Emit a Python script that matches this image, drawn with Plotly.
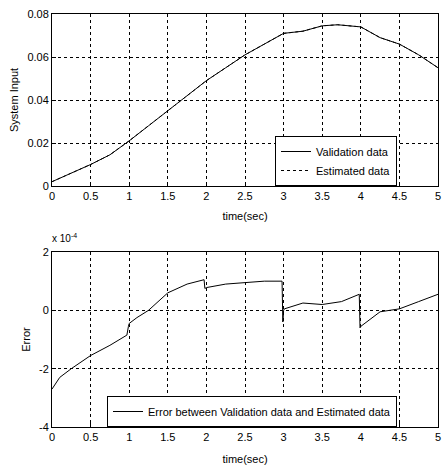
import plotly.graph_objects as go

# Data
t_in = [0, 0.25, 0.5, 0.75, 1.0, 1.25, 1.5, 1.75, 2.0, 2.25, 2.5, 2.75, 3.0, 3.25, 3.5, 3.7, 4.0, 4.25, 4.5, 4.75, 5.0]
validation = [0.002, 0.006, 0.010, 0.0145, 0.021, 0.028, 0.035, 0.042, 0.049, 0.055, 0.061, 0.066, 0.071, 0.072, 0.0745, 0.075, 0.074, 0.069, 0.066, 0.061, 0.055]
estimated = list(validation)

t_err = [0, 0.1, 0.25, 0.5, 0.75, 0.97, 0.99, 1.0, 1.1, 1.25, 1.5, 1.75, 1.97, 1.98, 2.0, 2.25, 2.5, 2.75, 2.98, 2.99, 3.0, 3.01, 3.25, 3.5, 3.75, 3.98, 3.99, 4.0, 4.25, 4.5, 4.75, 5.0]
err = [-2.7, -2.3, -2.0, -1.55, -1.2, -0.85, -0.55, -0.45, -0.25, 0.0, 0.6, 0.9, 1.05, 0.75, 0.78, 0.9, 0.95, 1.0, 1.0, -0.4, 0.0, 0.05, 0.25, 0.2, 0.3, 0.55, -0.6, -0.55, -0.05, 0.05, 0.3, 0.55]

xticks = [0, 0.5, 1, 1.5, 2, 2.5, 3, 3.5, 4, 4.5, 5]
xticklabels = ["0", "0.5", "1", "1.5", "2", "2.5", "3", "3.5", "4", "4.5", "5"]
y1ticks = [0, 0.02, 0.04, 0.06, 0.08]
y1labels = ["0", "0.02", "0.04", "0.06", "0.08"]
y2ticks = [-4, -2, 0, 2]
y2labels = ["-4", "-2", "0", "2"]

W, H = 445, 466
FONT = "Liberation Sans, Arial, sans-serif"

fig = go.Figure()
fig.add_trace(go.Scatter(x=t_in, y=validation, mode="lines", name="Validation data",
                         line=dict(color="black", width=1), xaxis="x", yaxis="y", legend="legend"))
fig.add_trace(go.Scatter(x=t_in, y=estimated, mode="lines", name="Estimated data",
                         line=dict(color="black", width=1, dash="dot"), xaxis="x", yaxis="y", legend="legend"))
fig.add_trace(go.Scatter(x=t_err, y=err, mode="lines", name="Error between Validation data and Estimated data",
                         line=dict(color="black", width=1), xaxis="x2", yaxis="y2", legend="legend2"))

xd = [52 / W, 438 / W]
axis_common = dict(showline=True, linecolor="black", linewidth=1, mirror=True,
                   ticks="inside", ticklen=4, tickcolor="black",
                   showgrid=True, gridcolor="black", griddash="dot", gridwidth=1,
                   zeroline=False,
                   tickfont=dict(size=11, color="black", family=FONT))

fig.update_layout(
    width=W, height=H,
    margin=dict(l=0, r=0, t=0, b=0, autoexpand=False),
    paper_bgcolor="white", plot_bgcolor="white",
    font=dict(family=FONT, color="black", size=11),
    xaxis=dict(domain=xd, range=[0, 5], tickvals=xticks, ticktext=xticklabels, anchor="y",
               title=dict(text="time(sec)", font=dict(size=11), standoff=11), **axis_common),
    yaxis=dict(domain=[1 - 186 / H, 1 - 14 / H], range=[0, 0.08], tickvals=y1ticks, ticktext=y1labels, anchor="x",
               title=dict(text="System Input", font=dict(size=11), standoff=6), **axis_common),
    xaxis2=dict(domain=xd, range=[0, 5], tickvals=xticks, ticktext=xticklabels, anchor="y2",
                title=dict(text="time(sec)", font=dict(size=11), standoff=13), **axis_common),
    yaxis2=dict(domain=[1 - 427 / H, 1 - 252 / H], range=[-4, 2], tickvals=y2ticks, ticktext=y2labels, anchor="x2",
                title=dict(text="Error", font=dict(size=11), standoff=6), **axis_common),
    legend=dict(x=397 / W, y=1 - 136 / H, xanchor="right", yanchor="top",
                bgcolor="white", bordercolor="black", borderwidth=1,
                font=dict(size=11, family=FONT), tracegroupgap=0, itemwidth=30),
    legend2=dict(x=397 / W, y=1 - 396 / H, xanchor="right", yanchor="top",
                 bgcolor="white", bordercolor="black", borderwidth=1,
                 font=dict(size=11, family=FONT), itemwidth=30),
    annotations=[dict(text="x 10<sup>-4</sup>", x=50 / W, y=1 - 238 / H, xref="paper", yref="paper",
                      xanchor="left", yanchor="middle", showarrow=False, font=dict(size=10))],
)

fig.write_html("out.html", config={"displayModeBar": False},
               post_script="document.body.style.margin='0';")
